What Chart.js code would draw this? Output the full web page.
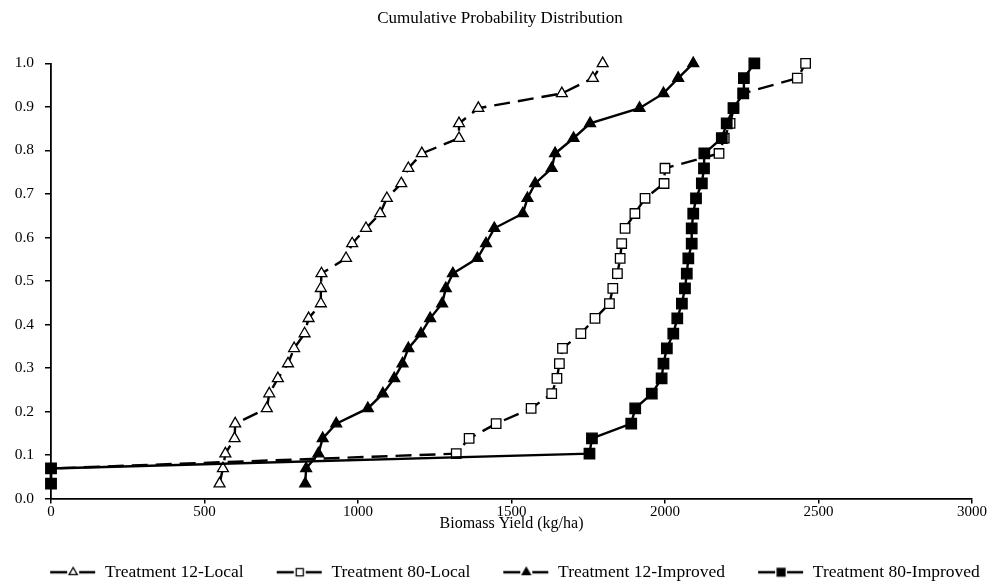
<!DOCTYPE html>
<html>
<head>
<meta charset="utf-8">
<script src="https://cdn.jsdelivr.net/npm/chart.js@4/dist/chart.umd.min.js"></script>
<style>
  html, body { margin: 0; padding: 0; background: #fff; }
</style>
</head>
<body>
<canvas id="graficoCdf" width="1000" height="582"></canvas>
<script>
// Probabilidade acumulada (eixo Y), igual para as 4 séries
const probabilidade = [0.034, 0.069, 0.103, 0.138, 0.172, 0.207, 0.241, 0.276, 0.310, 0.345,
  0.379, 0.414, 0.448, 0.483, 0.517, 0.552, 0.586, 0.621, 0.655, 0.690,
  0.724, 0.759, 0.793, 0.828, 0.862, 0.897, 0.931, 0.966, 1.000];

// Produtividade de biomassa (kg/ha)
const trat12Local = [549, 560, 568, 598, 600, 703, 711, 739, 772, 792,
  826, 839, 879, 879, 881, 961, 981, 1026, 1072, 1094,
  1141, 1164, 1208, 1329, 1329, 1392, 1664, 1765, 1797];
const trat80Local = [0, 0, 1320, 1362, 1450, 1564, 1631, 1648, 1656, 1666,
  1726, 1772, 1819, 1830, 1845, 1854, 1859, 1870, 1902, 1935,
  1997, 2000, 2176, 2193, 2212, 2224, 2254, 2431, 2458];
const trat12Melhorado = [828, 831, 871, 885, 929, 1032, 1081, 1118, 1145, 1164,
  1205, 1235, 1274, 1286, 1309, 1389, 1417, 1444, 1537, 1552,
  1577, 1631, 1642, 1702, 1756, 1917, 1995, 2043, 2092];
const trat80Melhorado = [0, 0, 1754, 1762, 1890, 1903, 1957, 1989, 1995, 2006,
  2027, 2040, 2055, 2065, 2071, 2076, 2087, 2087, 2092, 2101,
  2120, 2127, 2128, 2185, 2201, 2223, 2255, 2257, 2291];

const nomesSeries = ["Treatment 12-Local", "Treatment 80-Local", "Treatment 12-Improved", "Treatment 80-Improved"];
const ticksX = [0, 500, 1000, 1500, 2000, 2500, 3000];

const FONTE = "'Liberation Serif', 'Times New Roman', serif";
const TRACO = [16, 8];

function pontos(xs) {
  return xs.map((x, i) => ({ x: x, y: probabilidade[i] }));
}

const estilos = [
  { dados: trat12Local, forma: "triangle", fundo: "#fff", raio: 6.3, tracejado: TRACO },
  { dados: trat80Local, forma: "rect", fundo: "#fff", raio: 6.7, tracejado: TRACO },
  { dados: trat12Melhorado, forma: "triangle", fundo: "#000", raio: 6.3, tracejado: [] },
  { dados: trat80Melhorado, forma: "rect", fundo: "#000", raio: 7.4, tracejado: [] }
];

// icone da legenda: linha + marcador
function criarIcone(e) {
  const c = document.createElement("canvas");
  c.width = 76; c.height = 16;
  const ctx = c.getContext("2d");
  ctx.strokeStyle = "#000";
  ctx.lineWidth = 2.4;
  ctx.beginPath();
  ctx.moveTo(30, 8); ctx.lineTo(47, 8);
  ctx.moveTo(59, 8); ctx.lineTo(75, 8);
  ctx.stroke();
  ctx.fillStyle = e.fundo;
  ctx.lineWidth = 1.3;
  Chart.helpers.drawPoint(ctx, { pointStyle: e.forma, radius: e.raio * 0.75, rotation: 0, borderWidth: 1.3 }, 53, 8);
  return c;
}

const datasets = estilos.map((e, i) => ({
  label: nomesSeries[i],
  data: pontos(e.dados),
  borderColor: "#000",
  borderWidth: 2.4,
  borderDash: e.tracejado,
  tension: 0,
  clip: false,
  pointStyle: e.forma,
  pointRadius: e.raio,
  pointBackgroundColor: e.fundo,
  pointBorderColor: "#000",
  pointBorderWidth: 1.3,
  order: 3 - i
}));

const icones = estilos.map(criarIcone);

new Chart(document.getElementById("graficoCdf"), {
  type: "line",
  data: { datasets },
  options: {
    responsive: false,
    animation: false,
    layout: { padding: { top: 0, right: 0, bottom: -9, left: 0 } },
    plugins: {
      title: {
        display: true,
        text: "Cumulative Probability Distribution",
        color: "#000",
        font: { family: FONTE, size: 17, weight: "normal" },
        padding: { top: 8, bottom: 35 }
      },
      legend: {
        position: "bottom",
        align: "center",
        labels: {
          usePointStyle: true,
          pointStyleWidth: 76,
          padding: 3,
          color: "#000",
          font: { family: FONTE, size: 17.5 },
          generateLabels: () => nomesSeries.map((n, i) => ({
            text: n,
            pointStyle: icones[i],
            fillStyle: "#000",
            strokeStyle: "#000",
            lineWidth: 0,
            hidden: false,
            datasetIndex: i
          }))
        }
      },
      tooltip: { enabled: false }
    },
    scales: {
      x: {
        type: "linear",
        min: 0,
        max: 3000,
        afterBuildTicks: s => { s.ticks = ticksX.map(v => ({ value: v })); },
        afterFit: s => { s.height = 62; },
        ticks: {
          color: "#000",
          font: { family: FONTE, size: 15 },
          padding: 0,
          maxRotation: 0,
          callback: v => String(v)
        },
        grid: { drawOnChartArea: false, drawTicks: true, tickLength: 5, color: "#000", lineWidth: 1.5 },
        border: { color: "#000", width: 1.8 },
        title: {
          display: true,
          text: "Biomass Yield (kg/ha)",
          color: "#000",
          font: { family: FONTE, size: 16 },
          padding: { top: 0, bottom: 27 }
        }
      },
      y: {
        min: 0,
        max: 1,
        afterFit: s => { s.width = 51; },
        ticks: {
          stepSize: 0.1,
          color: "#000",
          font: { family: FONTE, size: 15.5 },
          padding: 11,
          callback: v => v.toFixed(1)
        },
        grid: { drawOnChartArea: false, drawTicks: true, tickLength: 6, color: "#000", lineWidth: 1.5 },
        border: { color: "#000", width: 1.8 }
      },
      // eixo vazio à direita, só para reservar a margem
      margem: {
        type: "linear",
        position: "right",
        display: true,
        afterFit: s => { s.width = 28; },
        ticks: { display: false },
        grid: { display: false, drawTicks: false },
        border: { display: false }
      }
    }
  }
});
</script>
</body>
</html>
